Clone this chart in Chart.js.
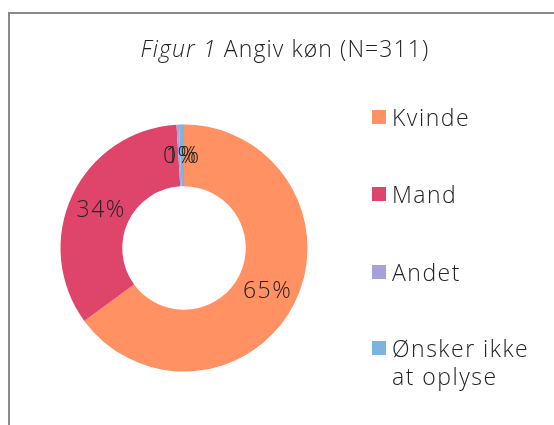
<!DOCTYPE html>
<html lang="da">
<head>
<meta charset="utf-8">
<script src="https://cdn.jsdelivr.net/npm/chart.js@4.4.1/dist/chart.umd.min.js"></script>
<style>
  html, body { margin: 0; padding: 0; background: #fff; overflow: hidden; }
  #wrap { width: 554px; height: 425px; position: relative; }
</style>
</head>
<body>
<div id="wrap"><canvas id="koenChart" width="554" height="425"></canvas></div>
<script>
// Data
const kategorier = ['Kvinde', 'Mand', 'Andet', 'Ønsker ikke at oplyse'];
const antal = [202, 106, 1, 2];
const farver = ['#FF9163', '#DF456A', '#A6A1DB', '#7BB5DF'];
const titelKursiv = 'Figur 1';
const titelTekst = ' Angiv køn (N=311)';

const FONT = '"Open Sans", Lato, sans-serif';
const TEKSTFARVE = '#222222';

// Ramme, titel, procenter og legend tegnes her
const tegnPlugin = {
    id: 'tegnPlugin',
    beforeDraw(chart) {
        const ctx = chart.ctx;
        ctx.save();
        ctx.strokeStyle = '#8a8a8a';
        ctx.lineWidth = 2;
        ctx.beginPath();
        ctx.moveTo(9, 430);
        ctx.lineTo(9, 13);
        ctx.lineTo(560, 13);
        ctx.stroke();
        ctx.restore();
    },
    afterDraw(chart) {
        const ctx = chart.ctx;
        ctx.save();
        ctx.fillStyle = TEKSTFARVE;
        ctx.textBaseline = 'alphabetic';

        // Titel
        ctx.letterSpacing = '1.1px';
        ctx.font = 'italic 300 23px ' + FONT;
        const w1 = ctx.measureText(titelKursiv).width;
        ctx.font = '300 23px ' + FONT;
        const w2 = ctx.measureText(titelTekst).width;
        let x = 285 - (w1 + w2) / 2;
        ctx.font = 'italic 300 23px ' + FONT;
        ctx.fillText(titelKursiv, x, 57);
        ctx.font = '300 23px ' + FONT;
        ctx.fillText(titelTekst, x + w1, 57);

        // Procenter i ringen
        ctx.letterSpacing = '1.5px';
        const meta = chart.getDatasetMeta(0);
        const data = chart.data.datasets[0].data;
        const total = data.reduce((a, b) => a + b, 0);
        ctx.font = '300 23px ' + FONT;
        ctx.textAlign = 'center';
        meta.data.forEach((arc, i) => {
            const p = arc.tooltipPosition();
            ctx.fillText(Math.round(data[i] / total * 100) + '%', p.x + 1, p.y + 8);
        });

        // Legend
        ctx.textAlign = 'left';
        const ys = [117, 194, 272, 348];
        chart.data.labels.forEach((lbl, i) => {
            ctx.fillStyle = chart.data.datasets[0].backgroundColor[i];
            ctx.fillRect(372, ys[i] - 7, 14, 14);
            ctx.fillStyle = TEKSTFARVE;
            // ombryd lange tekster
            const ord = lbl.split(' ');
            const linjer = [];
            let cur = '';
            ord.forEach(o => {
                const test = cur ? cur + ' ' + o : o;
                if (ctx.measureText(test).width > 158 && cur) {
                    linjer.push(cur);
                    cur = o;
                } else {
                    cur = test;
                }
            });
            linjer.push(cur);
            linjer.forEach((l, j) => ctx.fillText(l, 392, ys[i] + 9 + j * 28));
        });
        ctx.restore();
    }
};

const ctx = document.getElementById('koenChart').getContext('2d');
const koenChart = new Chart(ctx, {
    type: 'doughnut',
    data: {
        labels: kategorier,
        datasets: [{
            data: antal,
            backgroundColor: farver,
            borderWidth: 0
        }]
    },
    options: {
        responsive: false,
        animation: false,
        cutout: '50%',
        layout: {
            padding: { left: 60.5, top: 124.5, right: 246.5, bottom: 53.5 }
        },
        plugins: {
            legend: { display: false },
            title: { display: false },
            tooltip: { enabled: false }
        }
    },
    plugins: [tegnPlugin]
});
</script>
</body>
</html>
